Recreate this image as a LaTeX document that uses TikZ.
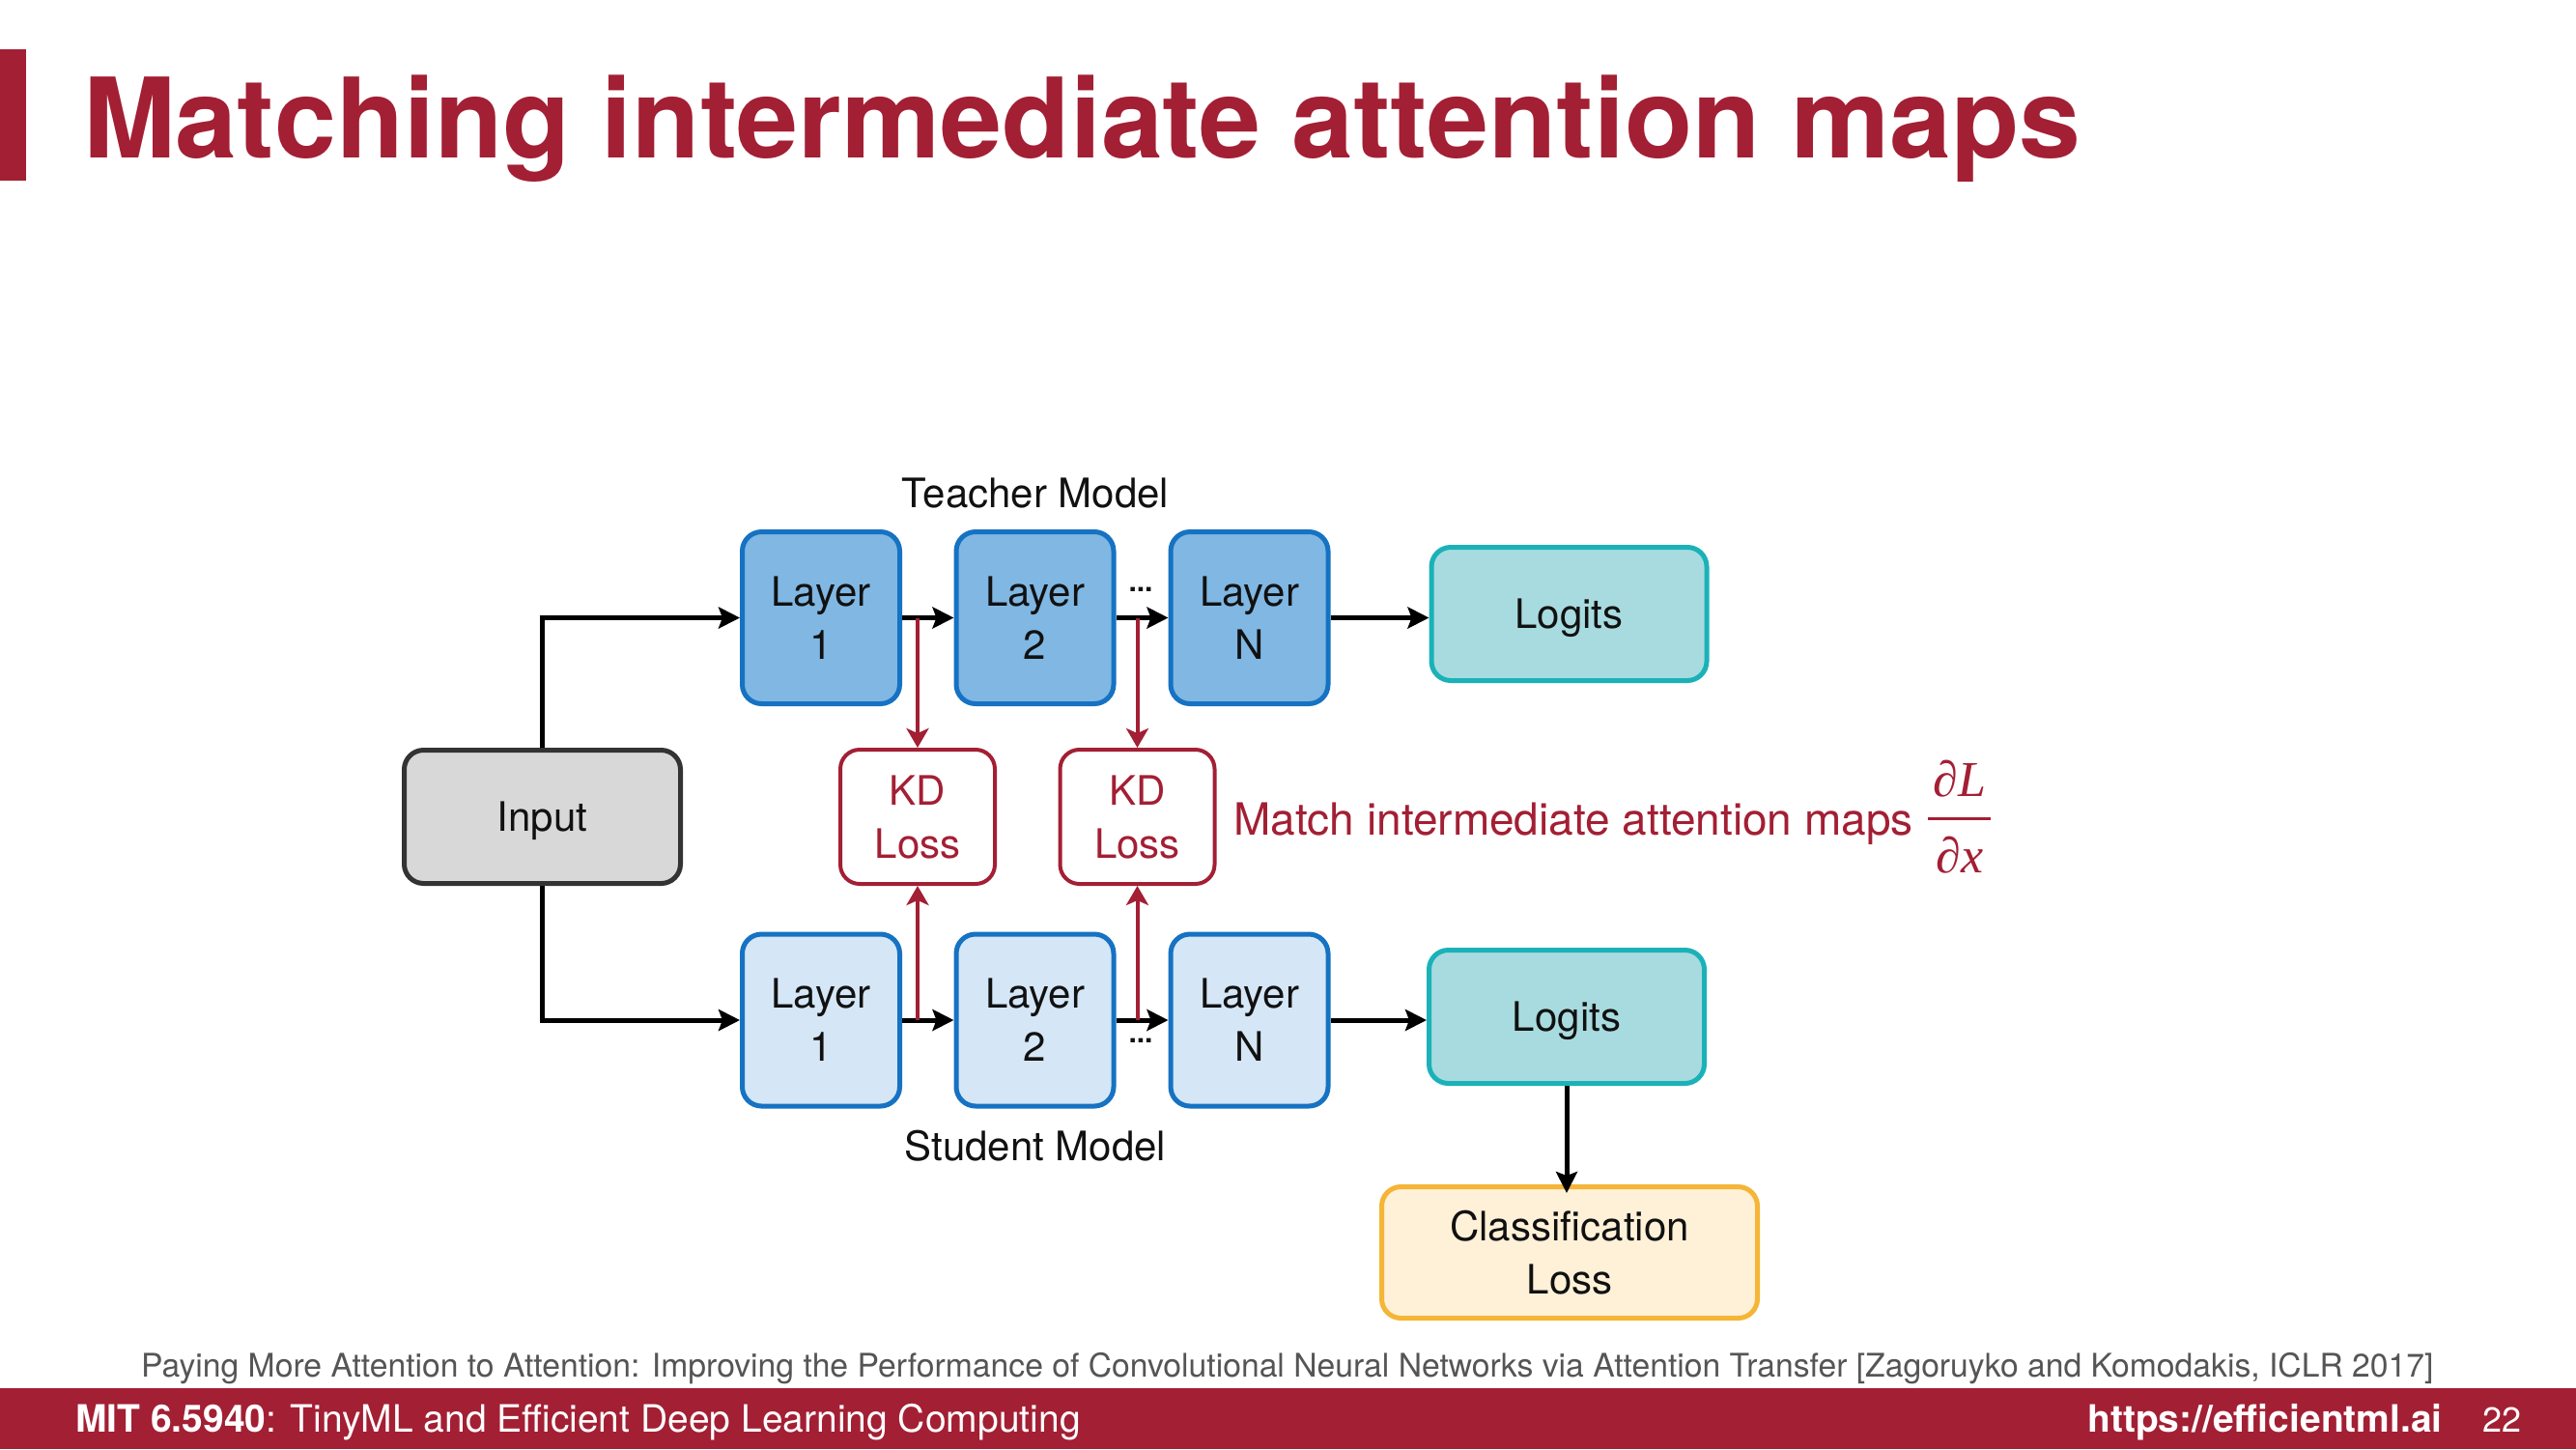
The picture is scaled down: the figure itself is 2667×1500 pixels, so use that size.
\documentclass[tikz,border=0pt]{standalone}
\usepackage{fontspec}
\setmainfont{TeX Gyre Heros}
\newfontfamily\serifmath{Liberation Serif}
\usetikzlibrary{arrows.meta}

\definecolor{mitred}{HTML}{A31F34}
\definecolor{inkblack}{HTML}{111111}
\definecolor{citegray}{HTML}{555555}
\definecolor{layerblue}{HTML}{1672C2}
\definecolor{teacherfill}{HTML}{80B7E3}
\definecolor{studentfill}{HTML}{D5E6F6}
\definecolor{logitline}{HTML}{1AB2B8}
\definecolor{logitfill}{HTML}{A8DBDF}
\definecolor{inputline}{HTML}{333333}
\definecolor{inputfill}{HTML}{D8D8D8}
\definecolor{lossline}{HTML}{F5B536}
\definecolor{lossfill}{HTML}{FFF1D8}

\tikzset{
  blockbox/.style={draw, line width=5pt, rounded corners=20pt, inner sep=0pt,
    align=center, text=inkblack, font=\fontsize{42}{55}\selectfont},
  oneline/.style={text height=30pt, text depth=0pt},
  teacherlayer/.style={blockbox, draw=layerblue, fill=teacherfill,
    minimum width=163pt, minimum height=178pt},
  studentlayer/.style={blockbox, draw=layerblue, fill=studentfill,
    minimum width=163pt, minimum height=178pt},
  logitbox/.style={blockbox, oneline, draw=logitline, fill=logitfill,
    minimum width=285pt, minimum height=138pt},
  inputbox/.style={blockbox, oneline, draw=inputline, fill=inputfill,
    minimum width=286pt, minimum height=138pt},
  kdbox/.style={blockbox, line width=4pt, draw=mitred, fill=white, text=mitred,
    minimum width=160pt, minimum height=139pt},
  lossbox/.style={blockbox, draw=lossline, fill=lossfill,
    minimum width=389pt, minimum height=136pt},
  flow/.style={draw=black, line width=5pt,
    -{Stealth[length=22pt,width=22pt,inset=4pt]}},
  kdflow/.style={draw=mitred, line width=4pt,
    -{Stealth[length=20pt,width=23pt,inset=5pt]}},
  caption/.style={inner sep=0pt, text=inkblack, font=\fontsize{42}{50}\selectfont},
  dots/.style={inner sep=0pt, text=inkblack, font=\fontsize{30}{30}\selectfont\bfseries},
}

\begin{document}
\begin{tikzpicture}[x=1pt,y=-1pt]
\useasboundingbox (0,0) rectangle (2667,1500);

% title with its side bar
\fill[mitred] (0,51) rectangle (27,187);
\node[anchor=base west, inner sep=0pt, text=mitred,
  font=\fontsize{115}{120}\selectfont\bfseries] (title) at (86,163)
  {Matching intermediate attention maps};

% teacher branch
\node[caption] (teacherlbl) at (1072,510) {Teacher Model};
\node[teacherlayer] (t1) at (850,639.5) {Layer\\1};
\node[teacherlayer] (t2) at (1071.5,639.5) {Layer\\2};
\node[teacherlayer] (tn) at (1293.5,639.5) {Layer\\N};
\node[logitbox] (tlog) at (1624.5,635.5) {Logits};
\node[dots] (tdots) at (1181,610) {...};

% student branch
\node[studentlayer] (s1) at (850,1056) {Layer\\1};
\node[studentlayer] (s2) at (1071.5,1056) {Layer\\2};
\node[studentlayer] (sn) at (1293.5,1056) {Layer\\N};
\node[logitbox] (slog) at (1622,1052.5) {Logits};
\node[dots] (sdots) at (1181,1077) {...};
\node[caption] (studentlbl) at (1072,1186) {Student Model};

% input and losses
\node[inputbox] (input) at (561.5,845.5) {Input};
\node[kdbox] (kd1) at (950,845.5) {KD\\Loss};
\node[kdbox] (kd2) at (1177.5,845.5) {KD\\Loss};
\node[lossbox] (closs) at (1625,1296.5) {Classification\\Loss};

% match annotation and gradient
\node[anchor=base west, inner sep=0pt, text=mitred, font=\fontsize{46}{50}\selectfont]
  (matchlbl) at (1277,864) {Match intermediate attention maps};
\node[inner sep=0pt, text=mitred, font=\fontsize{52}{52}\serifmath\itshape]
  (dnum) at (2029,806) {∂L};
\node[inner sep=0pt, text=mitred, font=\fontsize{52}{52}\serifmath\itshape]
  (dden) at (2029,885) {∂x};
\draw[mitred, line width=3pt] (1996,847) -- (2061,847);

% forward connections
\draw[flow] (input.north) |- (t1.west);
\draw[flow] (input.south) |- (s1.west);
\draw[flow] (t1) -- (t2);
\draw[flow] (t2) -- (tn);
\draw[flow] (tn.east) -- (tn.east -| tlog.west);
\draw[flow] (s1) -- (s2);
\draw[flow] (s2) -- (sn);
\draw[flow] (sn.east) -- (sn.east -| slog.west);
\draw[flow] (slog.south) -- ([yshift=-9pt]slog.south |- closs.north);

% attention-map matching
\draw[kdflow] (kd1.north |- t1.east) -- (kd1.north);
\draw[kdflow] (kd2.north |- t2.east) -- (kd2.north);
\draw[kdflow] (kd1.south |- s1.east) -- (kd1.south);
\draw[kdflow] (kd2.south |- s2.east) -- (kd2.south);

% citation and footer
\node[anchor=base west, inner sep=0pt, text=citegray,
  font=\fontsize{33.7}{36}\selectfont] (cite) at (146,1425)
  {Paying More Attention to Attention: Improving the Performance of Convolutional Neural Networks via Attention Transfer [Zagoruyko and Komodakis, ICLR 2017]};
\fill[mitred] (0,1437) rectangle (2667,1500);
\node[anchor=base west, inner sep=0pt, text=white,
  font=\fontsize{39}{42}\selectfont] (course) at (78,1482)
  {\textbf{MIT 6.5940}: TinyML and Efficient Deep Learning Computing};
\node[anchor=base east, inner sep=0pt, text=white,
  font=\fontsize{39}{42}\selectfont\bfseries] (url) at (2529,1482)
  {https://efficientml.ai};
\node[anchor=base west, inner sep=0pt, text=white,
  font=\fontsize{36}{40}\selectfont] (page) at (2570,1482) {22};
\end{tikzpicture}
\end{document}
